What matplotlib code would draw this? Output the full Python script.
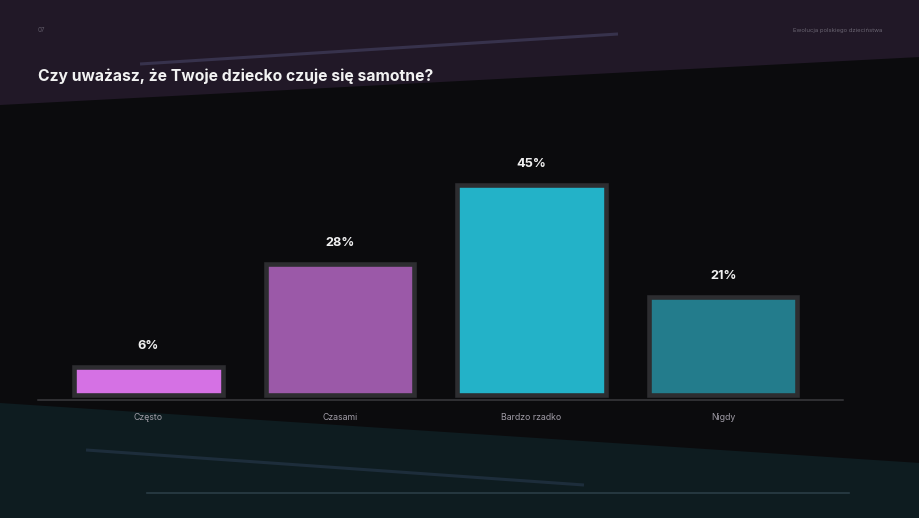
import matplotlib
matplotlib.use("Agg")
import matplotlib.pyplot as plt
from matplotlib.patches import Polygon

# ---- data ----
categories = ["Często", "Czasami", "Bardzo rzadko", "Nigdy"]
values = [6, 28, 45, 21]
value_labels = ["6%", "28%", "45%", "21%"]
bar_colors = ["#d571e4", "#9b59a8", "#23b2c8", "#237c8c"]
title = "Czy uważasz, że Twoje dziecko czuje się samotne?"
page_no = "07"
header = "Ewolucja polskiego dzieciństwa"

W, H = 920, 518
fig = plt.figure(figsize=(W / 100, H / 100), dpi=100)
fig.patch.set_facecolor("#0b0b0d")

# background decoration axes (pixel coordinates)
bg = fig.add_axes([0, 0, 1, 1], zorder=0)
bg.set_xlim(0, W)
bg.set_ylim(H, 0)
bg.axis("off")
bg.add_patch(Polygon([(0, 0), (W, 0), (W, 57), (0, 105)], closed=True,
                     facecolor="#211827", edgecolor="none"))
bg.add_patch(Polygon([(0, 403), (W, 463), (W, H), (0, H)], closed=True,
                     facecolor="#0e1c20", edgecolor="none"))
bg.plot([140, 618], [64, 34], color="#37324c", lw=2.2, solid_capstyle="butt")
bg.plot([86, 584], [450, 485], color="#1d2d3b", lw=2.2, solid_capstyle="butt")
bg.plot([147, 849], [493, 493], color="#2a3d46", lw=1.2)

# texts
fig.text(38 / W, 1 - 30 / H, page_no, color="#5e5866", fontsize=4.5,
         family="Inter", va="center", ha="left")
fig.text(882 / W, 1 - 30 / H, header, color="#6a6572", fontsize=4.3,
         family="Inter", va="center", ha="right")
fig.text(38 / W, 1 - 76 / H, title, color="#f2f2f2", fontsize=11.3,
         family="Inter", fontweight="bold", va="center", ha="left")

# chart axes
px_per_unit = 4.67
ax_left_px, ax_right_px = 38, 843
ax_bottom_px, ax_top_px = 400, 100
ax = fig.add_axes([ax_left_px / W, 1 - ax_bottom_px / H,
                   (ax_right_px - ax_left_px) / W,
                   (ax_bottom_px - ax_top_px) / H], zorder=1)
ax.patch.set_alpha(0)
spacing = 191.6
ymin = -5 / px_per_unit
ax.set_ylim(ymin, ymin + (ax_bottom_px - ax_top_px) / px_per_unit)
ax.set_xlim((ax_left_px - 148.4) / spacing, (ax_right_px - 148.4) / spacing)

x = list(range(len(categories)))
bars = ax.bar(x, values, width=148.5 / spacing, color=bar_colors,
              edgecolor="#2d2d30", linewidth=3.3, zorder=2)

for xi, v, lab in zip(x, values, value_labels):
    ax.annotate(lab, (xi, v), xytext=(0, 15), textcoords="offset points",
                ha="center", va="center", color="#f0f0f0", fontsize=9.2,
                fontweight="bold", family="Inter")

for s in ["top", "left", "right"]:
    ax.spines[s].set_visible(False)
ax.spines["bottom"].set_color("#3a3a3e")
ax.spines["bottom"].set_linewidth(1.1)
ax.set_yticks([])
ax.set_xticks(x)
ax.set_xticklabels(categories, color="#a09ca6", fontsize=6.3, family="Inter")
ax.tick_params(axis="x", length=0, pad=9)

fig.savefig("out.png", dpi=100, facecolor=fig.get_facecolor())
